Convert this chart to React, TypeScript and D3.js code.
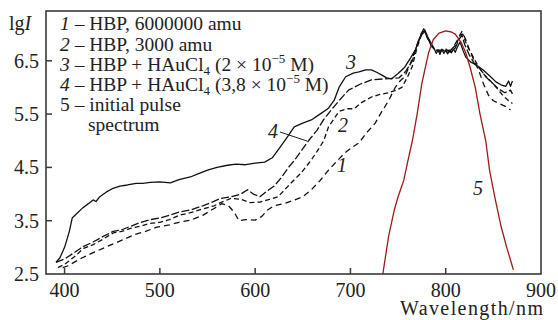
import React from "react";
import * as d3 from "d3";

const xTicks = [400, 500, 600, 700, 800, 900];
const yTicks = [2.5, 3.5, 4.5, 5.5, 6.5];

// curve 3: HBP + HAuCl4 (2e-5 M), solid
const curve3: [number, number][] = [
  [391, 2.72], [395, 2.8], [400, 3.0], [405, 3.3], [408, 3.55], [412, 3.62], [419, 3.74], [425, 3.82],
  [430, 3.89], [433, 3.86], [437, 3.95], [444, 4.04], [450, 4.1], [458, 4.15], [466, 4.17], [475, 4.2],
  [482, 4.2], [490, 4.22], [500, 4.23], [511, 4.21], [520, 4.27], [532, 4.32], [540, 4.38], [550, 4.45],
  [560, 4.5], [571, 4.54], [580, 4.56], [590, 4.55], [600, 4.58], [610, 4.6], [618, 4.68], [627, 4.9],
  [635, 5.1], [641, 5.26], [650, 5.33], [659, 5.39], [668, 5.5], [677, 5.61], [683, 5.76], [688, 6.0],
  [695, 6.2], [703, 6.27], [709, 6.29], [716, 6.33], [722, 6.33], [728, 6.28], [733, 6.23], [738, 6.18],
  [743, 6.16], [750, 6.26], [757, 6.38], [763, 6.55], [768, 6.7], [772, 6.88], [775, 7.0], [778, 7.08],
  [781, 6.95], [784, 6.85], [788, 6.72], [790, 6.64], [792, 6.7], [794, 6.62], [796, 6.72], [798, 6.64],
  [800, 6.7], [802, 6.63], [804, 6.7], [806, 6.65], [808, 6.72], [810, 6.66], [812, 6.75], [815, 6.85],
  [818, 6.7], [821, 6.57], [826, 6.48], [832, 6.42], [839, 6.33], [846, 6.22], [853, 6.1], [858, 6.05],
  [863, 6.02], [866, 6.12], [868, 6.02], [870, 6.12],
];

// curve 4: HBP + HAuCl4 (3.8e-5 M), dashed
const curve4: [number, number][] = [
  [391, 2.72], [400, 2.78], [410, 2.9], [420, 3.02], [430, 3.1], [440, 3.2], [451, 3.3], [460, 3.33],
  [470, 3.4], [480, 3.47], [490, 3.52], [500, 3.55], [510, 3.6], [520, 3.66], [532, 3.7], [545, 3.78],
  [555, 3.85], [564, 3.92], [575, 3.95], [585, 4.0], [592, 4.08], [598, 4.0], [605, 3.95], [612, 4.05],
  [620, 4.15], [627, 4.3], [635, 4.5], [642, 4.65], [648, 4.8], [656, 5.0], [665, 5.2], [672, 5.4],
  [680, 5.58], [688, 5.75], [698, 5.95], [710, 6.06], [722, 6.14], [735, 6.16], [745, 6.17], [751, 6.18],
  [758, 6.3], [765, 6.5], [770, 6.8], [774, 7.0], [777, 7.1], [781, 6.92], [785, 6.78], [790, 6.7],
  [795, 6.68], [800, 6.72], [805, 6.66], [810, 6.74], [814, 6.9], [817, 6.98], [820, 6.8], [825, 6.6],
  [830, 6.45], [836, 6.35], [842, 6.2], [848, 6.1], [855, 5.98], [862, 5.9], [868, 5.95], [870, 5.88],
];

// curve 2: HBP, 3000 amu, dashed
const curve2: [number, number][] = [
  [393, 2.62], [400, 2.68], [410, 2.82], [420, 2.98], [430, 3.05], [440, 3.15], [451, 3.27], [460, 3.3],
  [470, 3.36], [480, 3.4], [490, 3.45], [500, 3.47], [510, 3.52], [520, 3.6], [532, 3.65], [545, 3.72],
  [557, 3.78], [565, 3.85], [575, 3.92], [585, 3.9], [595, 3.84], [605, 3.85], [615, 3.9], [624, 3.95],
  [632, 4.1], [640, 4.25], [648, 4.39], [659, 4.64], [666, 4.83], [672, 5.0], [677, 5.26], [688, 5.55],
  [697, 5.6], [704, 5.6], [712, 5.72], [722, 5.82], [731, 5.87], [740, 5.9], [748, 5.95], [754, 6.0],
  [760, 6.2], [765, 6.4], [770, 6.75], [775, 7.02], [778, 7.05], [782, 6.9], [786, 6.75], [791, 6.7],
  [796, 6.7], [801, 6.68], [806, 6.72], [811, 6.8], [815, 6.98], [818, 7.0], [822, 6.8], [828, 6.6],
  [834, 6.4], [840, 6.25], [847, 6.12], [853, 6.0], [860, 5.85], [866, 5.75], [870, 5.7],
];

// curve 1: HBP, 6000000 amu, dashed
const curve1: [number, number][] = [
  [398, 2.62], [403, 2.65], [408, 2.7], [418, 2.8], [430, 2.9], [445, 3.02], [461, 3.14], [475, 3.25],
  [485, 3.3], [497, 3.38], [510, 3.42], [520, 3.47], [532, 3.51], [545, 3.6], [557, 3.73], [565, 3.82],
  [572, 3.78], [578, 3.66], [583, 3.5], [590, 3.52], [600, 3.51], [607, 3.58], [613, 3.7], [620, 3.78],
  [630, 3.82], [640, 3.88], [650, 3.95], [659, 4.08], [668, 4.25], [677, 4.45], [685, 4.6], [694, 4.77],
  [702, 4.88], [709, 4.96], [717, 5.15], [726, 5.33], [733, 5.55], [740, 5.75], [747, 6.0], [752, 6.12],
  [757, 6.2], [763, 6.45], [768, 6.7], [773, 6.95], [776, 7.02], [779, 7.0], [783, 6.85], [788, 6.72],
  [793, 6.68], [798, 6.7], [803, 6.66], [808, 6.75], [813, 6.92], [817, 7.05], [821, 6.9], [825, 6.7],
  [830, 6.5], [835, 6.3], [840, 6.05], [845, 5.85], [850, 5.75], [856, 5.7], [862, 5.65], [868, 5.58],
];

// curve 5: initial pulse spectrum
const curve5: [number, number][] = [
  [734, 2.5], [740, 3.2], [746, 3.7], [750, 3.95], [756, 4.26], [760, 4.6], [765, 5.0], [770, 5.5],
  [775, 6.08], [782, 6.65], [787, 6.9], [793, 7.02], [800, 7.06], [806, 7.04], [810, 7.0], [816, 6.85],
  [821, 6.65], [826, 6.35], [831, 6.0], [836, 5.5], [842, 5.0], [846, 4.45], [852, 3.9], [858, 3.4],
  [864, 3.0], [871, 2.58],
];

const serif = "'Liberation Serif', 'Times New Roman', serif";

export default function App() {
  const left = 46, right = 541, top = 11, bottom = 274;
  const x = d3.scaleLinear().domain([380.5, 900]).range([left, right]);
  const y = d3.scaleLinear().domain([2.5, 7.434]).range([bottom, top]);
  const line = d3.line<[number, number]>().x((d) => x(d[0])).y((d) => y(d[1]));

  const series = [
    { data: curve1, dash: "6,4", color: "#111" },
    { data: curve2, dash: "5,3", color: "#111" },
    { data: curve4, dash: "8,2.5", color: "#111" },
    { data: curve3, dash: null, color: "#111" },
    { data: curve5, dash: null, color: "#9e1a1a" },
  ];

  const legendX = 60;
  const lfs = 19.5;
  return (
    <svg width={558} height={320} style={{ position: "absolute", left: 0, top: 0, background: "#fff", fontFamily: serif }}>
      <rect x={0} y={0} width={558} height={320} fill="#fff" />
      {series.map((s, i) => (
        <path key={i} d={line(s.data) || ""} fill="none" stroke={s.color} strokeWidth={1.3}
          strokeDasharray={s.dash || undefined} strokeLinejoin="round" />
      ))}
      {/* frame */}
      <rect x={left} y={top} width={right - left} height={bottom - top} fill="none" stroke="#3a3a3a" strokeWidth={1.6} />
      {xTicks.map((t) => (
        <g key={t}>
          {t < 900 && <line x1={x(t)} x2={x(t)} y1={bottom} y2={bottom - 6} stroke="#3a3a3a" strokeWidth={1.5} />}
          <text x={x(t)} y={297} fontSize={20} textAnchor="middle" fill="#222">{t}</text>
        </g>
      ))}
      {yTicks.map((t) => (
        <g key={t}>
          {t > 2.5 && <line x1={left} x2={left + 6} y1={y(t)} y2={y(t)} stroke="#3a3a3a" strokeWidth={1.5} />}
          <text x={39} y={y(t) + 7} fontSize={20} textAnchor="end" fill="#222">{t.toFixed(1)}</text>
        </g>
      ))}
      <text x={9} y={30} fontSize={20} fill="#222">lg<tspan fontStyle="italic">I</tspan></text>
      <text x={543} y={315} fontSize={20} textAnchor="end" fill="#222" textLength={143} lengthAdjust="spacing">Wavelength/nm</text>

      {/* legend */}
      <g fontSize={lfs} fill="#222">
        <text x={legendX} y={30}><tspan fontStyle="italic">1</tspan> – HBP, 6000000 amu</text>
        <text x={legendX} y={50.5}><tspan fontStyle="italic">2</tspan> – HBP, 3000 amu</text>
        <text x={legendX} y={71}>
          <tspan fontStyle="italic">3</tspan> – HBP + HAuCl<tspan fontSize={13} dy={4}>4</tspan><tspan dy={-4}> (2 × 10</tspan><tspan fontSize={13} dy={-8}>−5</tspan><tspan dy={8}> M)</tspan>
        </text>
        <text x={legendX} y={91}>
          <tspan fontStyle="italic">4</tspan> – HBP + HAuCl<tspan fontSize={13} dy={4}>4</tspan><tspan dy={-4}> (3,8 × 10</tspan><tspan fontSize={13} dy={-8}>−5</tspan><tspan dy={8}> M)</tspan>
        </text>
        <text x={legendX} y={111}>5 – initial pulse</text>
        <text x={88} y={131}>spectrum</text>
      </g>

      {/* curve labels */}
      <g fontSize={20} fill="#222" fontStyle="italic">
        <text x={346} y={69}>3</text>
        <text x={268} y={138}>4</text>
        <text x={338} y={132}>2</text>
        <text x={337} y={172}>1</text>
        <text x={473} y={195}>5</text>
      </g>
      <line x1={280} y1={132} x2={307} y2={141} stroke="#222" strokeWidth={1} />
    </svg>
  );
}
